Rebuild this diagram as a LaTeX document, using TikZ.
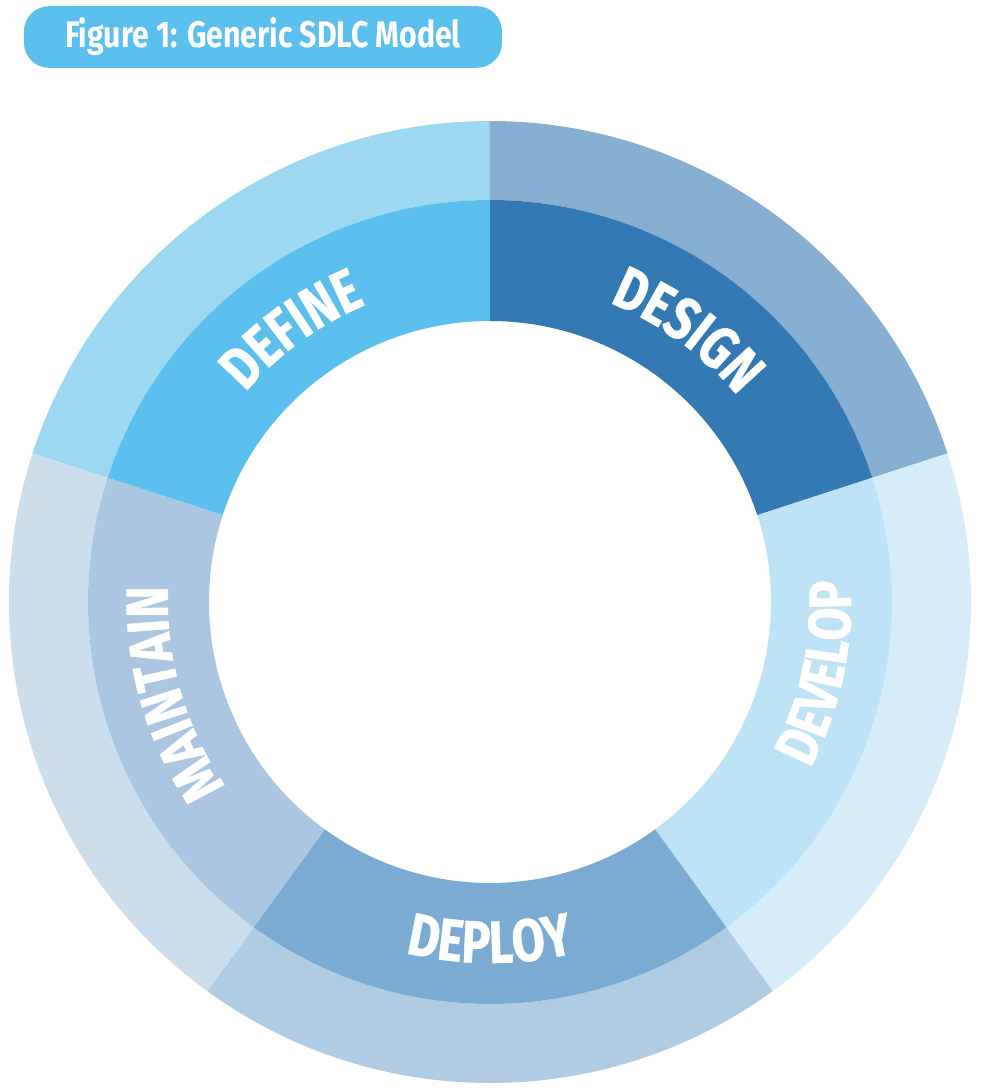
\documentclass[tikz,border=0pt]{standalone}
\usepackage{fontspec}
\setmainfont{Fira Sans}
\newfontfamily\sdlcfont[FakeStretch=0.82]{Fira Sans}
\newfontfamily\sdlcheavy[FakeStretch=0.8, FakeBold=0.8]{Fira Sans}
\usetikzlibrary{decorations.text}
\definecolor{defineinner}{RGB}{91, 192, 238}
\definecolor{defineouter}{RGB}{157, 216, 243}
\definecolor{designinner}{RGB}{51, 121, 179}
\definecolor{designouter}{RGB}{135, 175, 210}
\definecolor{developinner}{RGB}{190, 226, 246}
\definecolor{developouter}{RGB}{215, 236, 249}
\definecolor{deployinner}{RGB}{123, 171, 210}
\definecolor{deployouter}{RGB}{176, 204, 227}
\definecolor{maintaininner}{RGB}{170, 198, 225}
\definecolor{maintainouter}{RGB}{204, 222, 236}
\newcommand{\sdlclabel}{\sdlcheavy\bfseries\fontsize{17}{17}\selectfont}
\newcommand{\sdlctitle}{\sdlcfont\bfseries\fontsize{10.5}{11}\selectfont}

\begin{document}
\begin{tikzpicture}[
    titlebox/.style={fill=defineinner, rounded corners=0.25cm, minimum width=4.78cm,
                     minimum height=0.58cm, text=white, font=\sdlctitle},
    phase/.style={decorate, decoration={text along path, text align=center,
                  text color=white, text={|\sdlclabel|#1}}}
  ]
  \useasboundingbox (-4.90,-4.86) rectangle (4.92,6.02);
  \node[titlebox] (title) at (-2.27, 5.65) {Figure 1: Generic SDLC Model};
  % outer ring
  \fill[defineouter]   ( 90:4.02) arc ( 90: 162:4.02) -- ( 162:4.81) arc ( 162: 90:4.81) -- cycle;
  \fill[designouter]   ( 18:4.02) arc ( 18:  90:4.02) -- (  90:4.81) arc (  90: 18:4.81) -- cycle;
  \fill[developouter]  (-54:4.02) arc (-54:  18:4.02) -- (  18:4.81) arc (  18:-54:4.81) -- cycle;
  \fill[deployouter]   (-126:4.02) arc (-126:-54:4.02) -- ( -54:4.81) arc ( -54:-126:4.81) -- cycle;
  \fill[maintainouter] (162:4.02) arc (162: 234:4.02) -- ( 234:4.81) arc ( 234:162:4.81) -- cycle;
  % inner ring
  \fill[defineinner]   ( 90:2.81) arc ( 90: 162:2.81) -- ( 162:4.02) arc ( 162: 90:4.02) -- cycle;
  \fill[designinner]   ( 18:2.81) arc ( 18:  90:2.81) -- (  90:4.02) arc (  90: 18:4.02) -- cycle;
  \fill[developinner]  (-54:2.81) arc (-54:  18:2.81) -- (  18:4.02) arc (  18:-54:4.02) -- cycle;
  \fill[deployinner]   (-126:2.81) arc (-126:-54:2.81) -- ( -54:4.02) arc ( -54:-126:4.02) -- cycle;
  \fill[maintaininner] (162:2.81) arc (162: 234:2.81) -- ( 234:4.02) arc ( 234:162:4.02) -- cycle;
  % labels
  \path[phase=DEFINE]   ( 162:3.22) arc ( 162:  90:3.22);
  \path[phase=DESIGN]   (  90:3.22) arc (  90:  18:3.22);
  \path[phase=DEVELOP]  ( -48:3.61) arc ( -48:  24:3.61);
  \path[phase=DEPLOY]   (-126:3.61) arc (-126: -54:3.61);
  \path[phase=MAINTAIN] ( 232:3.22) arc ( 232: 160:3.22);
\end{tikzpicture}
\end{document}
